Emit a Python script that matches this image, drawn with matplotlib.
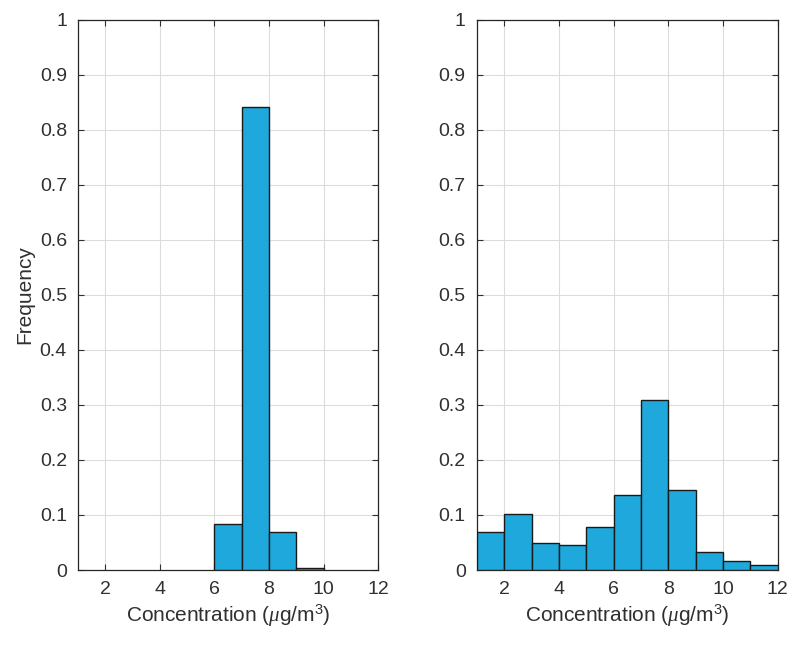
import numpy as np
import matplotlib
matplotlib.use("Agg")
import matplotlib.pyplot as plt

plt.rcParams['font.family'] = ['Liberation Sans', 'DejaVu Sans']
plt.rcParams['mathtext.fontset'] = 'custom'
plt.rcParams['mathtext.it'] = 'Liberation Serif:italic'
plt.rcParams['mathtext.rm'] = 'Liberation Sans'

# histogram bin edges (ug/m3) and relative frequencies
bin_edges = np.arange(1, 13)
freq_left = [0.0, 0.0, 0.0, 0.0, 0.0, 0.083, 0.842, 0.070, 0.003, 0.0, 0.0]
freq_right = [0.069, 0.101, 0.050, 0.045, 0.078, 0.136, 0.309, 0.146, 0.033, 0.017, 0.010]

xticks = [2, 4, 6, 8, 10, 12]
yticks = np.round(np.arange(0, 1.01, 0.1), 1)
ytick_labels = ['0', '0.1', '0.2', '0.3', '0.4', '0.5', '0.6', '0.7', '0.8', '0.9', '1']

bar_color = '#1ea8dc'
text_color = '#303030'

fig = plt.figure(figsize=(7.92, 6.46), dpi=100)
ax1 = fig.add_axes([0.0985, 0.1176, 0.379, 0.852])
ax2 = fig.add_axes([0.602, 0.1176, 0.380, 0.852])

for ax, freq in [(ax1, freq_left), (ax2, freq_right)]:
    freq = np.array(freq)
    keep = freq > 0
    ax.bar(bin_edges[:-1][keep], freq[keep], width=np.diff(bin_edges)[keep], align='edge',
           color=bar_color, edgecolor='#1a1a1a', linewidth=1.0, zorder=3)
    ax.set_xlim(1, 12)
    ax.set_ylim(0, 1)
    ax.set_xticks(xticks)
    ax.set_yticks(yticks)
    ax.set_yticklabels(ytick_labels)
    ax.grid(True, color='#dcdcdc', linewidth=0.8, zorder=0)
    ax.set_axisbelow(True)
    ax.tick_params(direction='in', top=True, right=True, length=4,
                   labelsize=14, colors=text_color, pad=8)
    for s in ax.spines.values():
        s.set_color('#262626')
        s.set_linewidth(0.9)
    ax.set_xlabel(r'Concentration ($\mu$g/m$^3$)', fontsize=15, color=text_color, labelpad=3)

ax1.set_ylabel('Frequency', fontsize=15, color=text_color, labelpad=4)

fig.savefig('out.png', dpi=100)
